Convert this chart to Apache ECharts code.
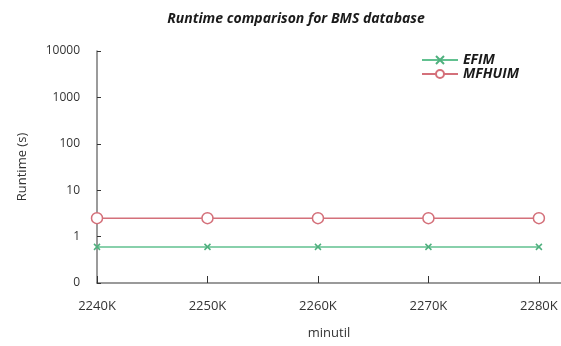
<!DOCTYPE html>
<html><head><meta charset="utf-8">
<script src="https://cdn.jsdelivr.net/npm/echarts@6/dist/echarts.min.js"></script>
<style>html,body{margin:0;padding:0;background:#fff}#c{width:561px;height:346px}</style>
</head><body><div id="c"></div>
<script>
const categories = [2240, 2250, 2260, 2270, 2280];
const efim = [0.6, 0.6, 0.6, 0.6, 0.6];
const mfhuim = [2.5, 2.5, 2.5, 2.5, 2.5];
const seriesNames = ['EFIM', 'MFHUIM'];

const chart = echarts.init(document.getElementById('c'), null, {renderer: 'canvas'});
const font = '"Open Sans", "Liberation Sans", sans-serif';
chart.setOption({
  animation: false,
  title: {
    text: 'Runtime comparison for BMS database',
    left: 291, top: 7, textAlign: 'center',
    textStyle: {fontFamily: font, fontSize: 14, fontWeight: 'bold', fontStyle: 'italic', color: '#1a1a1a'}
  },
  legend: {
    orient: 'vertical', left: 416, top: 48, itemGap: 0, itemWidth: 36, itemHeight: 10,
    data: seriesNames,
    textStyle: {fontFamily: font, fontSize: 14, fontWeight: 'bold', fontStyle: 'italic', color: '#1a1a1a'}
  },
  grid: {left: 97, right: 0, top: 51, bottom: 63, containLabel: false},
  xAxis: {
    type: 'value', min: 2240, max: 2282, interval: 10,
    name: 'minutil', nameLocation: 'middle', nameGap: 44,
    nameTextStyle: {fontFamily: font, fontSize: 13, color: '#333'},
    axisLine: {lineStyle: {color: '#7a7a7a', width: 1.5}},
    axisTick: {inside: true, length: 7, lineStyle: {color: '#333'}, customValues: categories},
    axisLabel: {margin: 17, fontFamily: font, fontSize: 13, color: '#333',
      customValues: categories, formatter: v => v + 'K'},
    splitLine: {show: false}
  },
  yAxis: {
    type: 'log', logBase: 10, min: 0.1, max: 10000,
    name: 'Runtime (s)', nameLocation: 'middle', nameGap: 68, nameRotate: 90,
    nameTextStyle: {fontFamily: font, fontSize: 13, color: '#333'},
    axisLine: {show: true, lineStyle: {color: '#7a7a7a', width: 1.5}},
    axisTick: {show: true, inside: true, length: 4, lineStyle: {color: '#333'}},
    axisLabel: {margin: 17, fontFamily: font, fontSize: 12, color: '#333',
      formatter: v => (v < 1 ? '0' : String(Math.round(v)))},
    splitLine: {show: false}
  },
  series: [
    {
      name: seriesNames[0], type: 'line',
      data: categories.map((c, i) => [c, efim[i]]),
      symbol: 'path://M0,0L10,10M10,0L0,10', symbolSize: 6,
      lineStyle: {color: '#62c190', width: 1.5},
      itemStyle: {color: '#62c190', borderColor: '#4fb07e', borderWidth: 1.5}
    },
    {
      name: seriesNames[1], type: 'line',
      data: categories.map((c, i) => [c, mfhuim[i]]),
      symbol: 'circle', symbolSize: 11,
      lineStyle: {color: '#d4707a', width: 1.5},
      itemStyle: {color: '#ffffff', borderColor: '#d4707a', borderWidth: 1.5}
    }
  ]
});
</script></body></html>
